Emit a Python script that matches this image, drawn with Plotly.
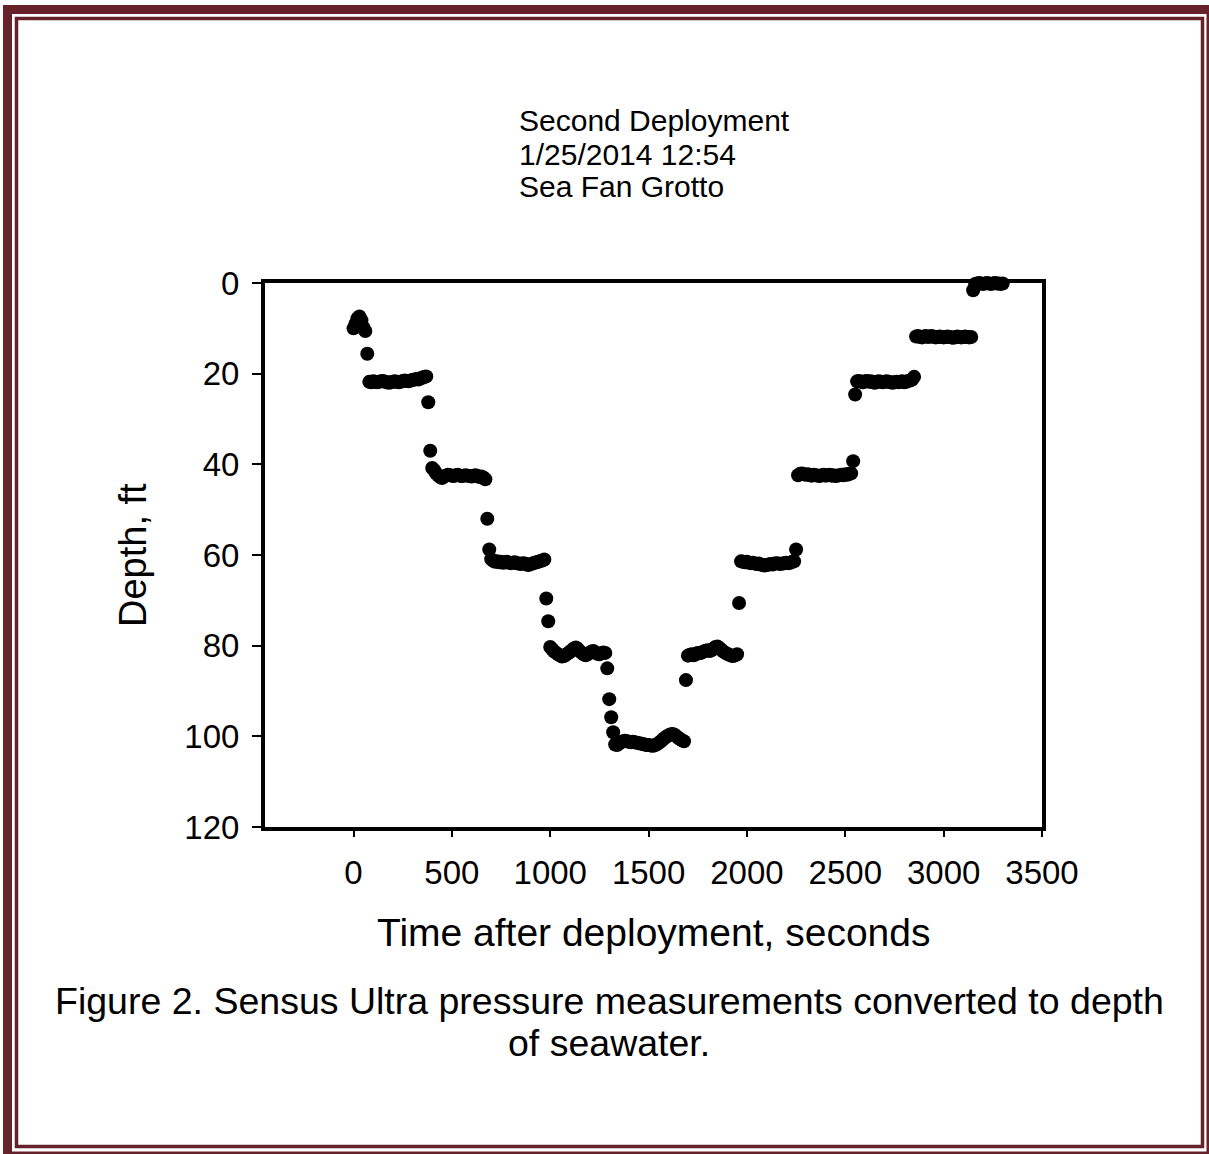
import plotly.graph_objects as go

# ---------------- data ----------------
time_s = [
    0, 10, 20, 30, 40, 50, 60, 70, 80, 90,
    100, 110, 120, 130, 140, 150, 160, 170, 180, 190,
    200, 210, 220, 230, 240, 250, 260, 270, 280, 290,
    300, 310, 320, 330, 340, 350, 360, 370, 380, 390,
    400, 410, 420, 430, 440, 450, 460, 470, 480, 490,
    500, 510, 520, 530, 540, 550, 560, 570, 580, 590,
    600, 610, 620, 630, 640, 650, 660, 670, 680, 690,
    700, 710, 720, 730, 740, 750, 760, 770, 780, 790,
    800, 810, 820, 830, 840, 850, 860, 870, 880, 890,
    900, 910, 920, 930, 940, 950, 960, 970, 980, 990,
    1000, 1010, 1020, 1030, 1040, 1050, 1060, 1070, 1080, 1090,
    1100, 1110, 1120, 1130, 1140, 1150, 1160, 1170, 1180, 1190,
    1200, 1210, 1220, 1230, 1240, 1250, 1260, 1270, 1280, 1290,
    1300, 1310, 1320, 1330, 1340, 1350, 1360, 1370, 1380, 1390,
    1400, 1410, 1420, 1430, 1440, 1450, 1460, 1470, 1480, 1490,
    1500, 1510, 1520, 1530, 1540, 1550, 1560, 1570, 1580, 1590,
    1600, 1610, 1620, 1630, 1640, 1650, 1660, 1670, 1680, 1690,
    1700, 1710, 1720, 1730, 1740, 1750, 1760, 1770, 1780, 1790,
    1800, 1810, 1820, 1830, 1840, 1850, 1860, 1870, 1880, 1890,
    1900, 1910, 1920, 1930, 1940, 1950, 1960, 1970, 1980, 1990,
    2000, 2010, 2020, 2030, 2040, 2050, 2060, 2070, 2080, 2090,
    2100, 2110, 2120, 2130, 2140, 2150, 2160, 2170, 2180, 2190,
    2200, 2210, 2220, 2230, 2240, 2250, 2260, 2270, 2280, 2290,
    2300, 2310, 2320, 2330, 2340, 2350, 2360, 2370, 2380, 2390,
    2400, 2410, 2420, 2430, 2440, 2450, 2460, 2470, 2480, 2490,
    2500, 2510, 2520, 2530, 2540, 2550, 2560, 2570, 2580, 2590,
    2600, 2610, 2620, 2630, 2640, 2650, 2660, 2670, 2680, 2690,
    2700, 2710, 2720, 2730, 2740, 2750, 2760, 2770, 2780, 2790,
    2800, 2810, 2820, 2830, 2840, 2850, 2860, 2870, 2880, 2890,
    2900, 2910, 2920, 2930, 2940, 2950, 2960, 2970, 2980, 2990,
    3000, 3010, 3020, 3030, 3040, 3050, 3060, 3070, 3080, 3090,
    3100, 3110, 3120, 3130, 3140, 3150, 3160, 3170, 3180, 3190,
    3200, 3210, 3220, 3230, 3240, 3250, 3260, 3270, 3280, 3290,
    3300,
]

depth_ft = [
    10.0, 9.0, 7.8, 7.4, 8.2, 9.8, 10.6, 15.6, 21.8, 21.9,
    21.7, 21.8, 21.9, 21.8, 21.7, 21.6, 21.8, 21.9, 22.0, 21.9,
    21.8, 21.7, 21.8, 21.9, 21.8, 21.6, 21.5, 21.6, 21.7, 21.5,
    21.4, 21.3, 21.2, 21.3, 21.0, 20.9, 20.7, 20.6, 26.3, 37.0,
    40.8, 41.3, 42.0, 42.4, 42.8, 43.0, 42.7, 42.5, 42.3, 42.4,
    42.5, 42.6, 42.4, 42.3, 42.5, 42.6, 42.5, 42.4, 42.5, 42.6,
    42.7, 42.5, 42.4, 42.6, 42.8, 42.7, 42.9, 43.3, 52.0, 58.8,
    60.9, 61.3, 61.5, 61.4, 61.6, 61.5, 61.7, 61.6, 61.5, 61.7,
    61.8, 61.7, 61.6, 61.8, 61.9, 62.0, 61.8, 61.9, 62.1, 62.2,
    62.0, 61.9, 61.7, 61.6, 61.5, 61.3, 61.2, 61.0, 69.6, 74.6,
    80.3, 80.8, 81.3, 81.6, 81.9, 82.2, 82.4, 82.3, 82.0, 81.7,
    81.4, 81.0, 80.6, 80.4, 80.7, 81.2, 81.6, 81.9, 82.1, 81.9,
    81.6, 81.3, 81.2, 81.5, 81.8, 81.9, 81.7, 81.5, 81.6, 85.0,
    91.8, 95.8, 99.1, 101.8, 101.9, 101.6, 101.3, 101.1, 101.0, 101.1,
    101.2, 101.3, 101.2, 101.3, 101.4, 101.5, 101.6, 101.7, 101.8, 101.9,
    101.9, 102.0, 102.1, 102.0, 101.8, 101.5, 101.2, 100.8, 100.4, 100.1,
    99.8, 99.6, 99.5, 99.6, 99.9, 100.3, 100.6, 100.9, 101.1, 87.6,
    82.2, 82.0, 81.9, 82.1, 81.8, 81.6, 81.7, 81.5, 81.3, 81.1,
    81.0, 81.2, 81.0, 80.6, 80.3, 80.2, 80.5, 80.9, 81.3, 81.6,
    81.8, 82.0, 82.2, 82.3, 82.1, 81.9, 70.6, 61.4, 61.5, 61.6,
    61.5, 61.7, 61.8, 61.7, 61.9, 62.0, 61.9, 62.1, 62.2, 62.3,
    62.2, 62.1, 62.0, 62.1, 61.9, 61.8, 61.9, 62.0, 61.9, 61.8,
    61.7, 61.8, 61.7, 61.5, 61.4, 58.8, 42.4, 42.1, 42.0, 42.2,
    42.3, 42.2, 42.4, 42.5, 42.3, 42.4, 42.5, 42.6, 42.4, 42.3,
    42.5, 42.4, 42.3, 42.5, 42.4, 42.6, 42.5, 42.4, 42.3, 42.4,
    42.2, 42.3, 42.1, 42.0, 39.3, 24.6, 21.7, 21.6, 21.8, 21.9,
    21.7, 21.6, 21.8, 21.7, 21.9, 22.0, 21.8, 21.7, 21.8, 21.9,
    21.8, 21.7, 21.8, 21.9, 22.0, 21.9, 21.8, 21.9, 21.8, 21.7,
    21.9, 21.8, 21.6, 21.5, 21.3, 20.7, 11.8, 11.7, 11.9, 12.0,
    11.8, 11.7, 11.9, 11.8, 11.7, 11.9, 12.0, 11.9, 11.8, 11.9,
    12.0, 11.9, 11.8, 11.9, 12.0, 12.1, 11.9, 11.8, 11.9, 12.0,
    11.9, 11.8, 11.9, 12.0, 11.9, 1.6, 0.2, 0.1, 0.0, 0.1,
    0.2, 0.1, 0.0, 0.1, 0.2, 0.1, 0.0, 0.1, 0.1, 0.2,
    0.1,
]

x_tick_values = [0, 500, 1000, 1500, 2000, 2500, 3000, 3500]
y_tick_values = [0, 20, 40, 60, 80, 100, 120]

title_lines = ["Second Deployment", "1/25/2014 12:54", "Sea Fan Grotto"]
x_title = "Time after deployment, seconds"
y_title = "Depth, ft"
caption_lines = ["Figure 2. Sensus Ultra pressure measurements converted to depth",
                 "of seawater."]

# ---------------- layout geometry ----------------
W, H = 1209, 1154
ML, MR, MT, MB = 265, 167, 283, 327
PW, PH = W - ML - MR, H - MT - MB
FONT = "Liberation Sans, Arial, sans-serif"
MAROON = "#66222a"


def px(x):
    return (x - ML) / PW


def py(y):
    return (H - MB - y) / PH


fig = go.Figure()
fig.add_trace(go.Scatter(
    x=time_s, y=depth_ft, mode="markers",
    marker=dict(color="black", size=14, line=dict(width=0)),
    cliponaxis=False, showlegend=False,
))

axis_common = dict(
    showgrid=False, zeroline=False, showline=True, linecolor="black",
    linewidth=4, mirror=True, ticks="outside", tickcolor="black",
    tickwidth=2, tickfont=dict(family=FONT, size=33, color="black"),
)

fig.update_xaxes(range=[-450, 3500], tickvals=x_tick_values, ticklen=6,
                 ticklabelstandoff=7, **axis_common)
fig.update_yaxes(range=[120, 0], tickvals=y_tick_values, ticklen=9,
                 ticklabelstandoff=6, **axis_common)

annotations = []
for i, line in enumerate(title_lines):
    annotations.append(dict(
        text=line, x=px(517), y=py(121 + 33 * i), xref="paper", yref="paper",
        xanchor="left", yanchor="middle", showarrow=False,
        font=dict(family=FONT, size=30, color="black")))
annotations.append(dict(
    text=x_title, x=px(653), y=py(932), xref="paper", yref="paper",
    xanchor="center", yanchor="middle", showarrow=False,
    font=dict(family=FONT, size=39, color="black")))
annotations.append(dict(
    text=y_title, x=px(133), y=py(555), xref="paper", yref="paper",
    xanchor="center", yanchor="middle", showarrow=False, textangle=-90,
    font=dict(family=FONT, size=38, color="black")))
for i, line in enumerate(caption_lines):
    annotations.append(dict(
        text=line, x=px(609), y=py(1001 + 42 * i), xref="paper", yref="paper",
        xanchor="center", yanchor="middle", showarrow=False,
        font=dict(family=FONT, size=37.5, color="black")))

shapes = [
    dict(type="rect", xref="paper", yref="paper",
         x0=px(7.5), x1=px(1211), y0=py(9.5), y1=py(1156),
         line=dict(color=MAROON, width=9), fillcolor="rgba(0,0,0,0)", layer="above"),
    dict(type="rect", xref="paper", yref="paper",
         x0=px(16.5), x1=px(1202.5), y0=py(18.5), y1=py(1146.5),
         line=dict(color=MAROON, width=3.5), fillcolor="rgba(0,0,0,0)", layer="above"),
]

fig.update_layout(
    width=W, height=H,
    margin=dict(l=ML, r=MR, t=MT, b=MB, pad=0),
    paper_bgcolor="white", plot_bgcolor="white",
    annotations=annotations, shapes=shapes,
    font=dict(family=FONT, color="black"),
)

fig.write_html("out.html")
